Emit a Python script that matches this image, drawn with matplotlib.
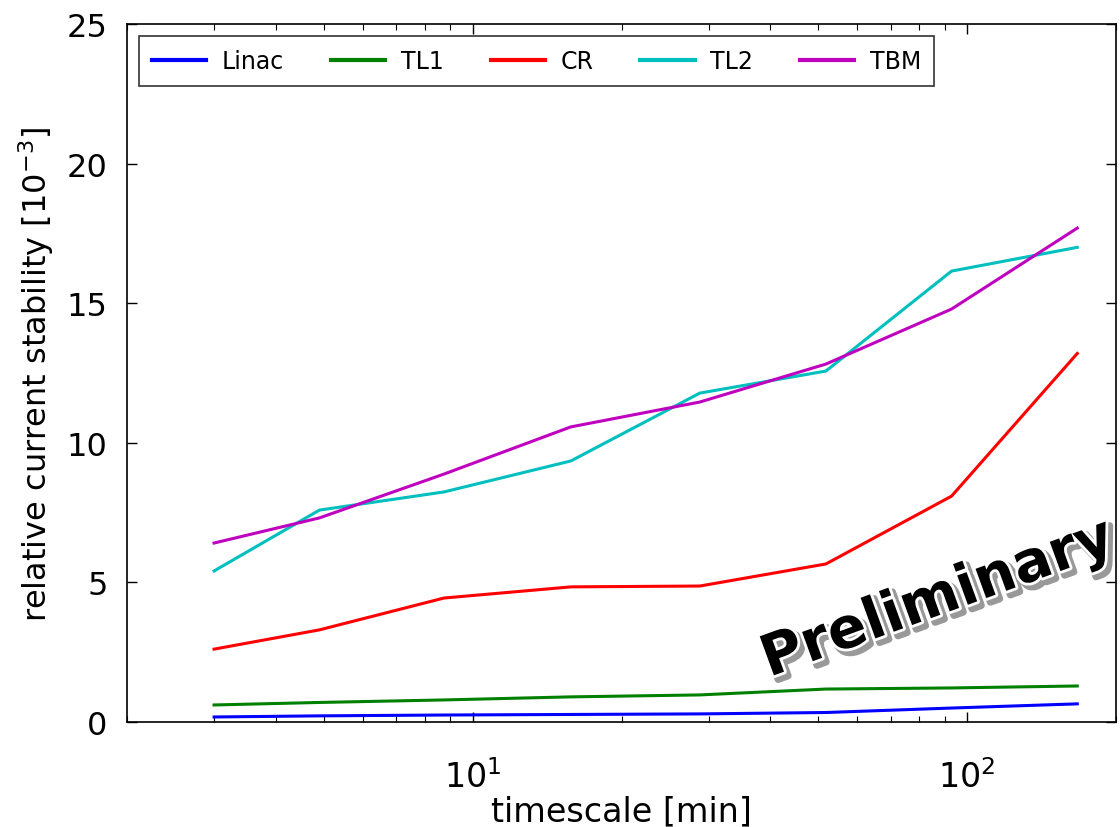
import matplotlib
matplotlib.use('Agg')
import matplotlib.pyplot as plt
import matplotlib.patheffects as pe

timescale = [3, 4.9, 8.75, 15.8, 28.8, 51.8, 93, 167]
linac = [0.18, 0.22, 0.25, 0.27, 0.29, 0.34, 0.5, 0.65]
tl1 = [0.61, 0.7, 0.79, 0.9, 0.97, 1.18, 1.22, 1.29]
cr = [2.61, 3.3, 4.44, 4.84, 4.87, 5.66, 8.09, 13.2]
tl2 = [5.41, 7.59, 8.24, 9.35, 11.78, 12.57, 16.15, 17.0]
tbm = [6.41, 7.31, 8.88, 10.57, 11.46, 12.82, 14.79, 17.69]

names = ['Linac', 'TL1', 'CR', 'TL2', 'TBM']
series = [linac, tl1, cr, tl2, tbm]
colors = ['b', 'g', 'r', 'c', 'm']

plt.rcParams['font.family'] = ['DejaVu Sans']
plt.rcParams['mathtext.fontset'] = 'dejavusans'

fig = plt.figure(figsize=(11.2, 8.28), dpi=100)
ax = fig.add_axes([127/1120, 1 - 723/828, 989/1120, 698/828])

for name, vals, c in zip(names, series, colors):
    ax.plot(timescale, vals, color=c, lw=2.2, label=name)

ax.set_xscale('log')
ax.set_xlim(2, 200)
ax.set_ylim(0, 25)
ax.set_yticks([0, 5, 10, 15, 20, 25])

ax.tick_params(which='both', direction='in', top=True, right=True)
ax.tick_params(axis='x', which='major', labelsize=24, pad=27)
ax.tick_params(axis='y', which='major', labelsize=23, pad=14)
ax.tick_params(which='major', length=7, width=1)
ax.tick_params(which='minor', length=4, width=0.8)
for s in ax.spines.values():
    s.set_linewidth(1.2)

ax.set_xlabel('timescale [min]', fontsize=24, labelpad=0)
ax.set_ylabel(r'relative current stability [$10^{-3}$]', fontsize=23, labelpad=8)

leg = ax.legend(loc='upper left', ncol=5, fontsize=17, frameon=True, fancybox=False,
                edgecolor='black', handlelength=2.3, handletextpad=0.65, columnspacing=2.0,
                borderpad=0.55, borderaxespad=0.5)
leg.get_frame().set_linewidth(1.2)
for line in leg.get_lines():
    line.set_linewidth(3)

ax.text(0.82, 0.176, 'Preliminary', transform=ax.transAxes, fontsize=41, fontweight='bold',
        rotation=20, ha='center', va='center', rotation_mode='anchor',
        path_effects=[pe.Stroke(linewidth=5, foreground='0.6', offset=(3, -3)),
                      pe.Stroke(linewidth=4, foreground='white'),
                      pe.Normal()])

fig.savefig('out.png', dpi=100, facecolor='white')
